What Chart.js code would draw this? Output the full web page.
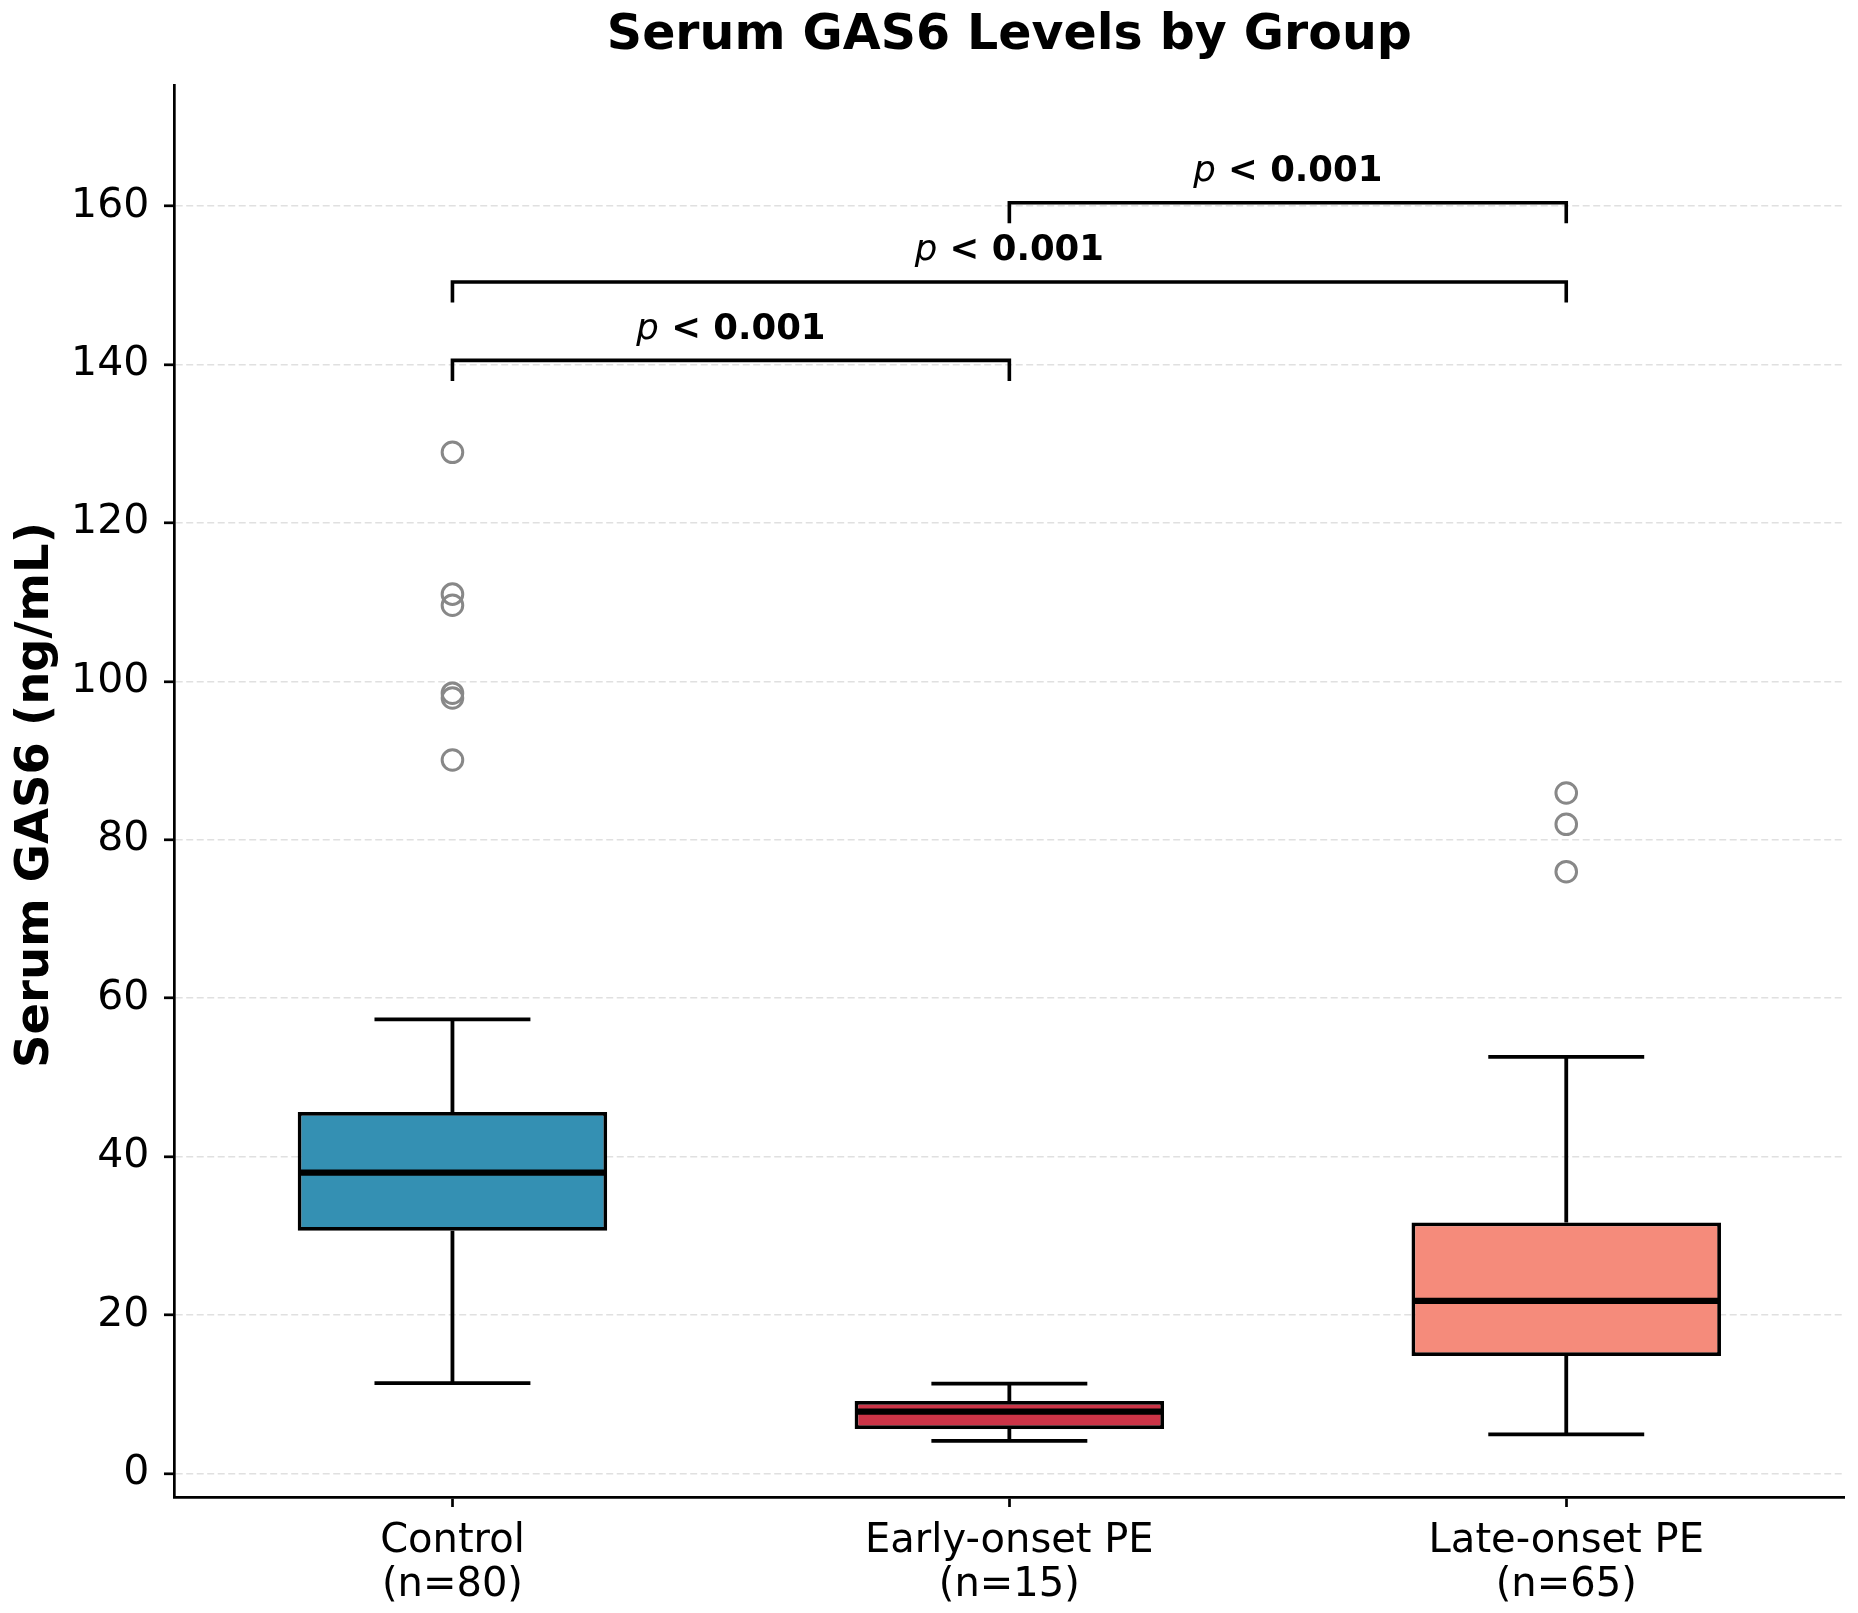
<!DOCTYPE html>
<html><head><meta charset="utf-8">
<script src="https://cdn.jsdelivr.net/npm/chart.js@4.4.1/dist/chart.umd.min.js"></script>
<style>html,body{margin:0;padding:0;background:#fff;} canvas{display:block;}</style>
</head><body>
<canvas id="c" width="1858" height="1613" style="width:1858px;height:1613px"></canvas>
<script>
// ---- data ----
const categories = ['Control', 'Early-onset PE', 'Late-onset PE'];
const groupSizes = [80, 15, 65];
const q1 = [30.64, 5.64, 14.85];
const medians = [37.99, 7.82, 21.8];
const q3 = [45.65, 9.17, 31.7];
const whiskerLow = [11.42, 4.13, 4.95];
const whiskerHigh = [57.34, 11.35, 52.6];
const outliersControl = [128.9, 111.0, 109.6, 98.5, 97.9, 90.07];
const outliersEarly = [];
const outliersLate = [85.9, 81.95, 75.97];
const yTicks = [0, 20, 40, 60, 80, 100, 120, 140, 160];
const comparisons = [[0, 1], [0, 2], [1, 2]];
const bracketLevels = [140.5, 150.4, 160.4];
const pLabels = ['p < 0.001', 'p < 0.001', 'p < 0.001'];
const titleText = 'Serum GAS6 Levels by Group';
const yTitleText = 'Serum GAS6 (ng/mL)';

// ---- styles ----
const boxColors = ['#3490B3', '#CC3447', '#F58B7B'];
const BOX_FRAC = 0.5557;
const CAP_FRAC = 0.28;
const FONT = '"DejaVu Sans", sans-serif';
const LW = 3.8;

const outlierGroups = [outliersControl, outliersEarly, outliersLate];
const outlierPoints = [];
outlierGroups.forEach((arr, i) => arr.forEach(v => outlierPoints.push({x: categories[i], y: v})));

const decor = {
  id: 'decor',
  afterDatasetsDraw(chart) {
    const {ctx, scales: {x, y}} = chart;
    const catW = x.getPixelForValue(1) - x.getPixelForValue(0);
    ctx.save();
    ctx.strokeStyle = '#000';
    ctx.lineCap = 'butt';
    categories.forEach((c, i) => {
      const cx = x.getPixelForValue(i);
      const bw = BOX_FRAC * catW;
      const cw = CAP_FRAC * catW;
      ctx.lineWidth = LW;
      ctx.beginPath();
      ctx.moveTo(cx, y.getPixelForValue(q3[i]));
      ctx.lineTo(cx, y.getPixelForValue(whiskerHigh[i]));
      ctx.moveTo(cx, y.getPixelForValue(q1[i]));
      ctx.lineTo(cx, y.getPixelForValue(whiskerLow[i]));
      ctx.moveTo(cx - cw / 2, y.getPixelForValue(whiskerHigh[i]));
      ctx.lineTo(cx + cw / 2, y.getPixelForValue(whiskerHigh[i]));
      ctx.moveTo(cx - cw / 2, y.getPixelForValue(whiskerLow[i]));
      ctx.lineTo(cx + cw / 2, y.getPixelForValue(whiskerLow[i]));
      ctx.stroke();
      ctx.lineWidth = 6.3;
      ctx.beginPath();
      ctx.moveTo(cx - bw / 2 + 2, y.getPixelForValue(medians[i]));
      ctx.lineTo(cx + bw / 2 - 2, y.getPixelForValue(medians[i]));
      ctx.stroke();
    });
    // brackets
    ctx.lineWidth = 3.6;
    comparisons.forEach((pair, k) => {
      const x1 = x.getPixelForValue(pair[0]);
      const x2 = x.getPixelForValue(pair[1]);
      const yl = y.getPixelForValue(bracketLevels[k]);
      const yt = y.getPixelForValue(bracketLevels[k] - 2.6);
      ctx.beginPath();
      ctx.moveTo(x1, yt); ctx.lineTo(x1, yl); ctx.lineTo(x2, yl); ctx.lineTo(x2, yt);
      ctx.stroke();
      const label = pLabels[k];
      const first = label.slice(0, 1);
      const rest = label.slice(1);
      const fi = 'italic 35.5px ' + FONT;
      const fb = 'bold 35.5px ' + FONT;
      ctx.font = fi; const w1 = ctx.measureText(first).width;
      ctx.font = fb; const w2 = ctx.measureText(rest).width;
      const startX = (x1 + x2) / 2 - (w1 + w2) / 2;
      const by = y.getPixelForValue(bracketLevels[k] + 2.74);
      ctx.fillStyle = '#000';
      ctx.textBaseline = 'alphabetic';
      ctx.textAlign = 'left';
      ctx.font = fi; ctx.fillText(first, startX, by);
      ctx.font = fb; ctx.fillText(rest, startX + w1, by);
    });
    ctx.restore();
  },
  afterDraw(chart) {
    const {ctx, chartArea} = chart;
    ctx.save();
    ctx.fillStyle = '#000';
    ctx.textAlign = 'center';
    ctx.textBaseline = 'alphabetic';
    ctx.font = 'bold 49px ' + FONT;
    ctx.fillText(titleText, (chartArea.left + chartArea.right) / 2, 49);
    ctx.translate(48, (chartArea.top + chartArea.bottom) / 2 + 4);
    ctx.rotate(-Math.PI / 2);
    ctx.font = 'bold 46.5px ' + FONT;
    ctx.fillText(yTitleText, 0, 0);
    ctx.restore();
  }
};

new Chart(document.getElementById('c'), {
  type: 'bar',
  data: {
    labels: categories,
    datasets: [
      {
        type: 'line',
        data: outlierPoints,
        showLine: false,
        pointStyle: 'circle',
        pointRadius: 10.3,
        pointBorderWidth: 3,
        pointBorderColor: '#888888',
        pointBackgroundColor: 'rgba(0,0,0,0)',
        order: 0
      },
      {
        type: 'bar',
        data: q1.map((v, i) => [v, q3[i]]),
        backgroundColor: boxColors,
        borderColor: '#000',
        borderWidth: LW,
        borderSkipped: false,
        barPercentage: BOX_FRAC,
        categoryPercentage: 1.0,
        order: 1
      }
    ]
  },
  options: {
    responsive: false,
    animation: false,
    devicePixelRatio: 1,
    layout: {padding: {top: 85, right: 12, left: 0, bottom: 0}},
    plugins: {legend: {display: false}, title: {display: false}, tooltip: {enabled: false}},
    scales: {
      x: {
        offset: true,
        grid: {display: true, drawOnChartArea: false, drawTicks: true, tickLength: 10, tickWidth: 2.7, tickColor: '#000', offset: false},
        border: {display: true, color: '#000', width: 2.7},
        ticks: {
          color: '#000', padding: 13,
          font: {family: FONT, size: 40, lineHeight: 1.1},
          callback: (v, i) => [categories[i], '(n=' + groupSizes[i] + ')']
        },
        afterFit: s => { s.height = 116; }
      },
      y: {
        min: -2.95, max: 175.26,
        afterBuildTicks: s => { s.ticks = yTicks.map(v => ({value: v})); },
        grid: {display: true, color: '#e0e0e0', lineWidth: 1.6, drawTicks: true, tickLength: 10, tickWidth: 2.7, tickColor: '#000'},
        border: {display: true, color: '#000', width: 2.7, dash: [7, 3.5]},
        ticks: {color: '#000', padding: 14.7, font: {family: FONT, size: 41}},
        afterFit: s => { s.width = 174; }
      }
    }
  },
  plugins: [decor]
});
</script>
</body></html>
